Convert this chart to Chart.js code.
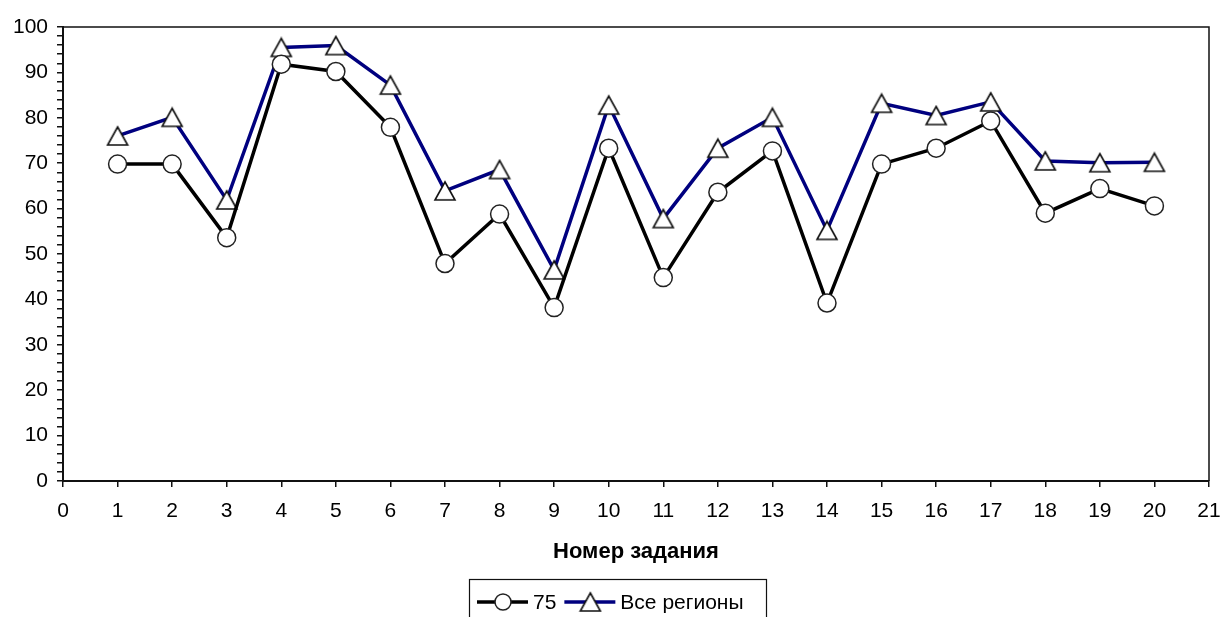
<!DOCTYPE html>
<html>
<head>
<meta charset="utf-8">
<script src="https://cdn.jsdelivr.net/npm/chart.js@4/dist/chart.umd.min.js"></script>
<style>
  html, body { margin: 0; padding: 0; background: #fff; }
  #wrap { width: 1223px; height: 617px; }
</style>
</head>
<body>
<div id="wrap"><canvas id="c" width="1223" height="617"></canvas></div>
<script>
// Task numbers along the horizontal axis
const taskNumbers = [1, 2, 3, 4, 5, 6, 7, 8, 9, 10, 11, 12, 13, 14, 15, 16, 17, 18, 19, 20];
// Percentage of correct answers, region 75
const region75 = [69.8, 69.8, 53.6, 91.8, 90.2, 77.9, 47.9, 58.8, 38.2, 73.3, 44.8, 63.6, 72.7, 39.2, 69.8, 73.3, 79.3, 59.0, 64.4, 60.6];
// Percentage of correct answers, all regions
const allRegions = [76.0, 80.1, 61.9, 95.5, 95.9, 87.2, 63.9, 68.6, 46.5, 82.8, 57.8, 73.3, 80.1, 55.2, 83.2, 80.5, 83.5, 70.5, 70.1, 70.2];
// Axis ranges and labels
const xRange = [0, 21];
const yRange = [0, 100];
const yLabelStep = 10;
const yMinorStep = 2;
const xTitle = 'Номер задания';
const seriesNames = ['75', 'Все регионы'];

const FONT = '"Liberation Sans", Arial, sans-serif';

// Triangle marker centred in its bounding box
function makeTriangle(w, h) {
  const cv = document.createElement('canvas');
  cv.width = w + 4; cv.height = h + 4;
  const g = cv.getContext('2d');
  g.beginPath();
  g.moveTo(cv.width / 2, 2);
  g.lineTo(cv.width - 2, h + 2);
  g.lineTo(2, h + 2);
  g.closePath();
  g.fillStyle = '#fff';
  g.fill();
  g.lineWidth = 1.6;
  g.strokeStyle = '#111';
  g.stroke();
  return cv;
}
const triMarker = makeTriangle(20, 18);

const toPoints = (ys) => taskNumbers.map((x, i) => ({ x: x, y: ys[i] }));

// Box around the plotting area (top and right edges)
const frame = {
  id: 'frame',
  afterDatasetsDraw(chart) {
    const { ctx, chartArea: a } = chart;
    ctx.save();
    ctx.strokeStyle = '#111';
    ctx.lineWidth = 1.5;
    ctx.beginPath();
    ctx.moveTo(a.left, a.top);
    ctx.lineTo(a.right, a.top);
    ctx.lineTo(a.right, a.bottom);
    ctx.stroke();
    ctx.restore();
  }
};

// Legend box with line-and-marker samples
const lineLegend = {
  id: 'lineLegend',
  afterDraw(chart) {
    const { ctx } = chart;
    const ds = chart.data.datasets;
    const boxX = 469, boxY = 579, boxW = 297, boxH = 60;
    const cy = 602;
    ctx.save();
    ctx.strokeStyle = '#111';
    ctx.lineWidth = 1.2;
    ctx.strokeRect(boxX + 0.5, boxY + 0.5, boxW, boxH);
    ctx.font = '21px ' + FONT;
    ctx.textBaseline = 'middle';
    ctx.textAlign = 'left';
    ctx.fillStyle = '#000';
    let x = 477;
    ds.forEach((d, i) => {
      ctx.strokeStyle = d.borderColor;
      ctx.lineWidth = 3.5;
      ctx.beginPath();
      ctx.moveTo(x, cy);
      ctx.lineTo(x + 51, cy);
      ctx.stroke();
      const mx = x + 26;
      if (d.pointStyle === 'circle') {
        ctx.beginPath();
        ctx.arc(mx, cy, 8, 0, Math.PI * 2);
        ctx.fillStyle = '#fff';
        ctx.fill();
        ctx.lineWidth = 1.5;
        ctx.strokeStyle = '#222';
        ctx.stroke();
      } else {
        ctx.drawImage(triMarker, mx - triMarker.width / 2, cy - triMarker.height / 2);
      }
      ctx.fillStyle = '#000';
      ctx.fillText(seriesNames[i], x + 56, cy + 1);
      x += 56 + ctx.measureText(seriesNames[i]).width + 8;
    });
    ctx.restore();
  }
};

new Chart(document.getElementById('c'), {
  type: 'line',
  data: {
    datasets: [
      {
        label: seriesNames[0],
        data: toPoints(region75),
        borderColor: '#000',
        borderWidth: 3.5,
        pointStyle: 'circle',
        pointRadius: 9,
        pointHoverRadius: 9,
        pointBackgroundColor: '#fff',
        pointBorderColor: '#222',
        pointBorderWidth: 1.5,
        tension: 0
      },
      {
        label: seriesNames[1],
        data: toPoints(allRegions),
        borderColor: '#00007f',
        borderWidth: 3.5,
        pointStyle: triMarker,
        pointRadius: 10,
        pointHoverRadius: 10,
        tension: 0
      }
    ]
  },
  options: {
    responsive: false,
    animation: false,
    devicePixelRatio: 1,
    events: [],
    layout: { padding: { top: 27, right: 14, left: 0, bottom: 52 } },
    plugins: {
      legend: { display: false },
      tooltip: { enabled: false }
    },
    scales: {
      x: {
        type: 'linear',
        min: xRange[0],
        max: xRange[1],
        ticks: {
          stepSize: 1,
          autoSkip: false,
          color: '#000',
          padding: 12,
          maxRotation: 0,
          font: { family: FONT, size: 21 }
        },
        grid: {
          display: true,
          drawOnChartArea: false,
          drawTicks: true,
          tickLength: 6,
          color: '#111',
          lineWidth: 1.5
        },
        border: { display: true, color: '#111', width: 2 },
        title: {
          display: true,
          text: xTitle,
          color: '#000',
          padding: 0,
          font: { family: FONT, size: 22, weight: 'bold' }
        },
        afterFit(scale) {
          scale.height = 84;
          scale.paddingLeft = 0;
          scale.paddingRight = 0;
        }
      },
      y: {
        min: yRange[0],
        max: yRange[1],
        ticks: {
          stepSize: yMinorStep,
          autoSkip: false,
          color: '#000',
          padding: 9,
          font: { family: FONT, size: 21 },
          callback: (v) => (v % yLabelStep === 0 ? String(v) : '')
        },
        grid: {
          display: true,
          drawOnChartArea: false,
          drawTicks: true,
          tickLength: 6,
          color: '#111',
          lineWidth: 1.5
        },
        border: { display: true, color: '#111', width: 2 },
        afterFit(scale) {
          scale.width = 63;
          scale.paddingTop = 0;
          scale.paddingBottom = 0;
        }
      }
    }
  },
  plugins: [frame, lineLegend]
});
</script>
</body>
</html>
